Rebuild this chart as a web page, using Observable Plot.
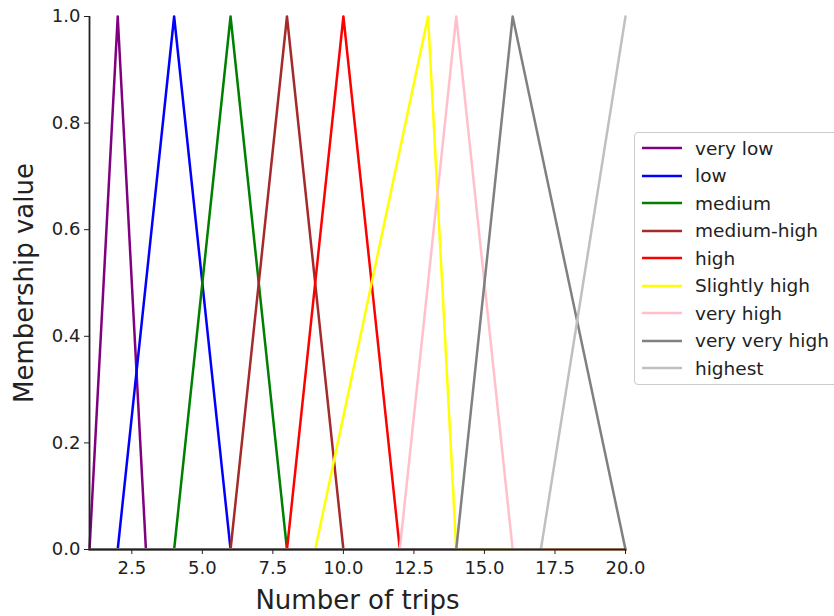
<!DOCTYPE html>
<html>
<head>
<meta charset="utf-8">
<script src="https://cdn.jsdelivr.net/npm/d3@7"></script>
<script src="https://cdn.jsdelivr.net/npm/@observablehq/plot@0.6"></script>
<style>
  html, body { margin: 0; padding: 0; background: #fff; }
  #wrap { position: relative; width: 834px; height: 616px; overflow: hidden; font-family: "DejaVu Sans", sans-serif; }
  #legend { position: absolute; left: 634px; top: 132px; width: 230px; height: 253px; border: 1px solid #cccccc; border-radius: 4px; box-sizing: border-box; background: #fff; }
  .item { position: absolute; left: 0; height: 24px; display: flex; align-items: center; font-size: 18.5px; color: #222; white-space: nowrap; }
  .item svg { margin-left: 7px; margin-right: 13px; }
</style>
</head>
<body>
<div id="wrap"><div id="legend"></div></div>
<script>
const names = ["very low", "low", "medium", "medium-high", "high", "Slightly high", "very high", "very very high", "highest"];
const colors = ["#800080", "#0000ff", "#008000", "#a52a2a", "#ff0000", "#ffff00", "#ffc0cb", "#808080", "#c0c0c0"];
const leftFoot = [1, 2, 4, 6, 8, 9, 12, 14, 17];
const peak = [2, 4, 6, 8, 10, 13, 14, 16, 20];
const rightFoot = [3, 6, 8, 10, 12, 14, 16, 20, 20];
const universe = [1, 20];
const xTicks = [2.5, 5.0, 7.5, 10.0, 12.5, 15.0, 17.5, 20.0];
const yTicks = [0.0, 0.2, 0.4, 0.6, 0.8, 1.0];

const rows = [];
names.forEach((n, i) => {
  const pts = [[universe[0], 0]];
  if (leftFoot[i] > universe[0]) pts.push([leftFoot[i], 0]);
  pts.push([peak[i], 1]);
  if (rightFoot[i] > peak[i]) pts.push([rightFoot[i], 0]);
  if (universe[1] > rightFoot[i]) pts.push([universe[1], 0]);
  pts.forEach(([x, y]) => rows.push({name: n, x, y}));
});

const chart = Plot.plot({
  width: 834,
  height: 616,
  marginLeft: 89,
  marginRight: 209,
  marginTop: 16,
  marginBottom: 67,
  style: {fontFamily: "DejaVu Sans, sans-serif", color: "#222", background: "transparent"},
  x: {domain: universe},
  y: {domain: [0, 1]},
  color: {domain: names, range: colors},
  marks: [
    Plot.line(rows, {x: "x", y: "y", z: "name", stroke: "name", strokeWidth: 2.5, sort: null}),
    Plot.ruleX([universe[0]], {stroke: "#222", strokeWidth: 1.8}),
    Plot.ruleY([0], {stroke: "#222", strokeWidth: 2}),
    Plot.axisX({ticks: xTicks, tickFormat: d3.format(".1f"), tickSize: 5, tickPadding: 7, fontSize: 18, label: null}),
    Plot.axisY({ticks: yTicks, tickFormat: d3.format(".1f"), tickSize: 5, tickPadding: 4, fontSize: 18, label: null}),
    Plot.text(["Number of trips"], {frameAnchor: "bottom", dy: 51, fontSize: 26, fill: "#222", textAnchor: "middle", lineAnchor: "middle"}),
    Plot.text(["Membership value"], {frameAnchor: "left", dx: -65, rotate: -90, fontSize: 26, fill: "#222", textAnchor: "middle", lineAnchor: "middle"})
  ]
});
document.getElementById("wrap").prepend(chart);

const legend = document.getElementById("legend");
names.forEach((n, i) => {
  const d = document.createElement("div");
  d.className = "item";
  d.style.top = (3 + i * 27.5) + "px";
  d.innerHTML = `<svg width="40" height="6"><line x1="0" y1="3" x2="40" y2="3" stroke="${colors[i]}" stroke-width="2.5"/></svg><span>${n}</span>`;
  legend.appendChild(d);
});
</script>
</body>
</html>
